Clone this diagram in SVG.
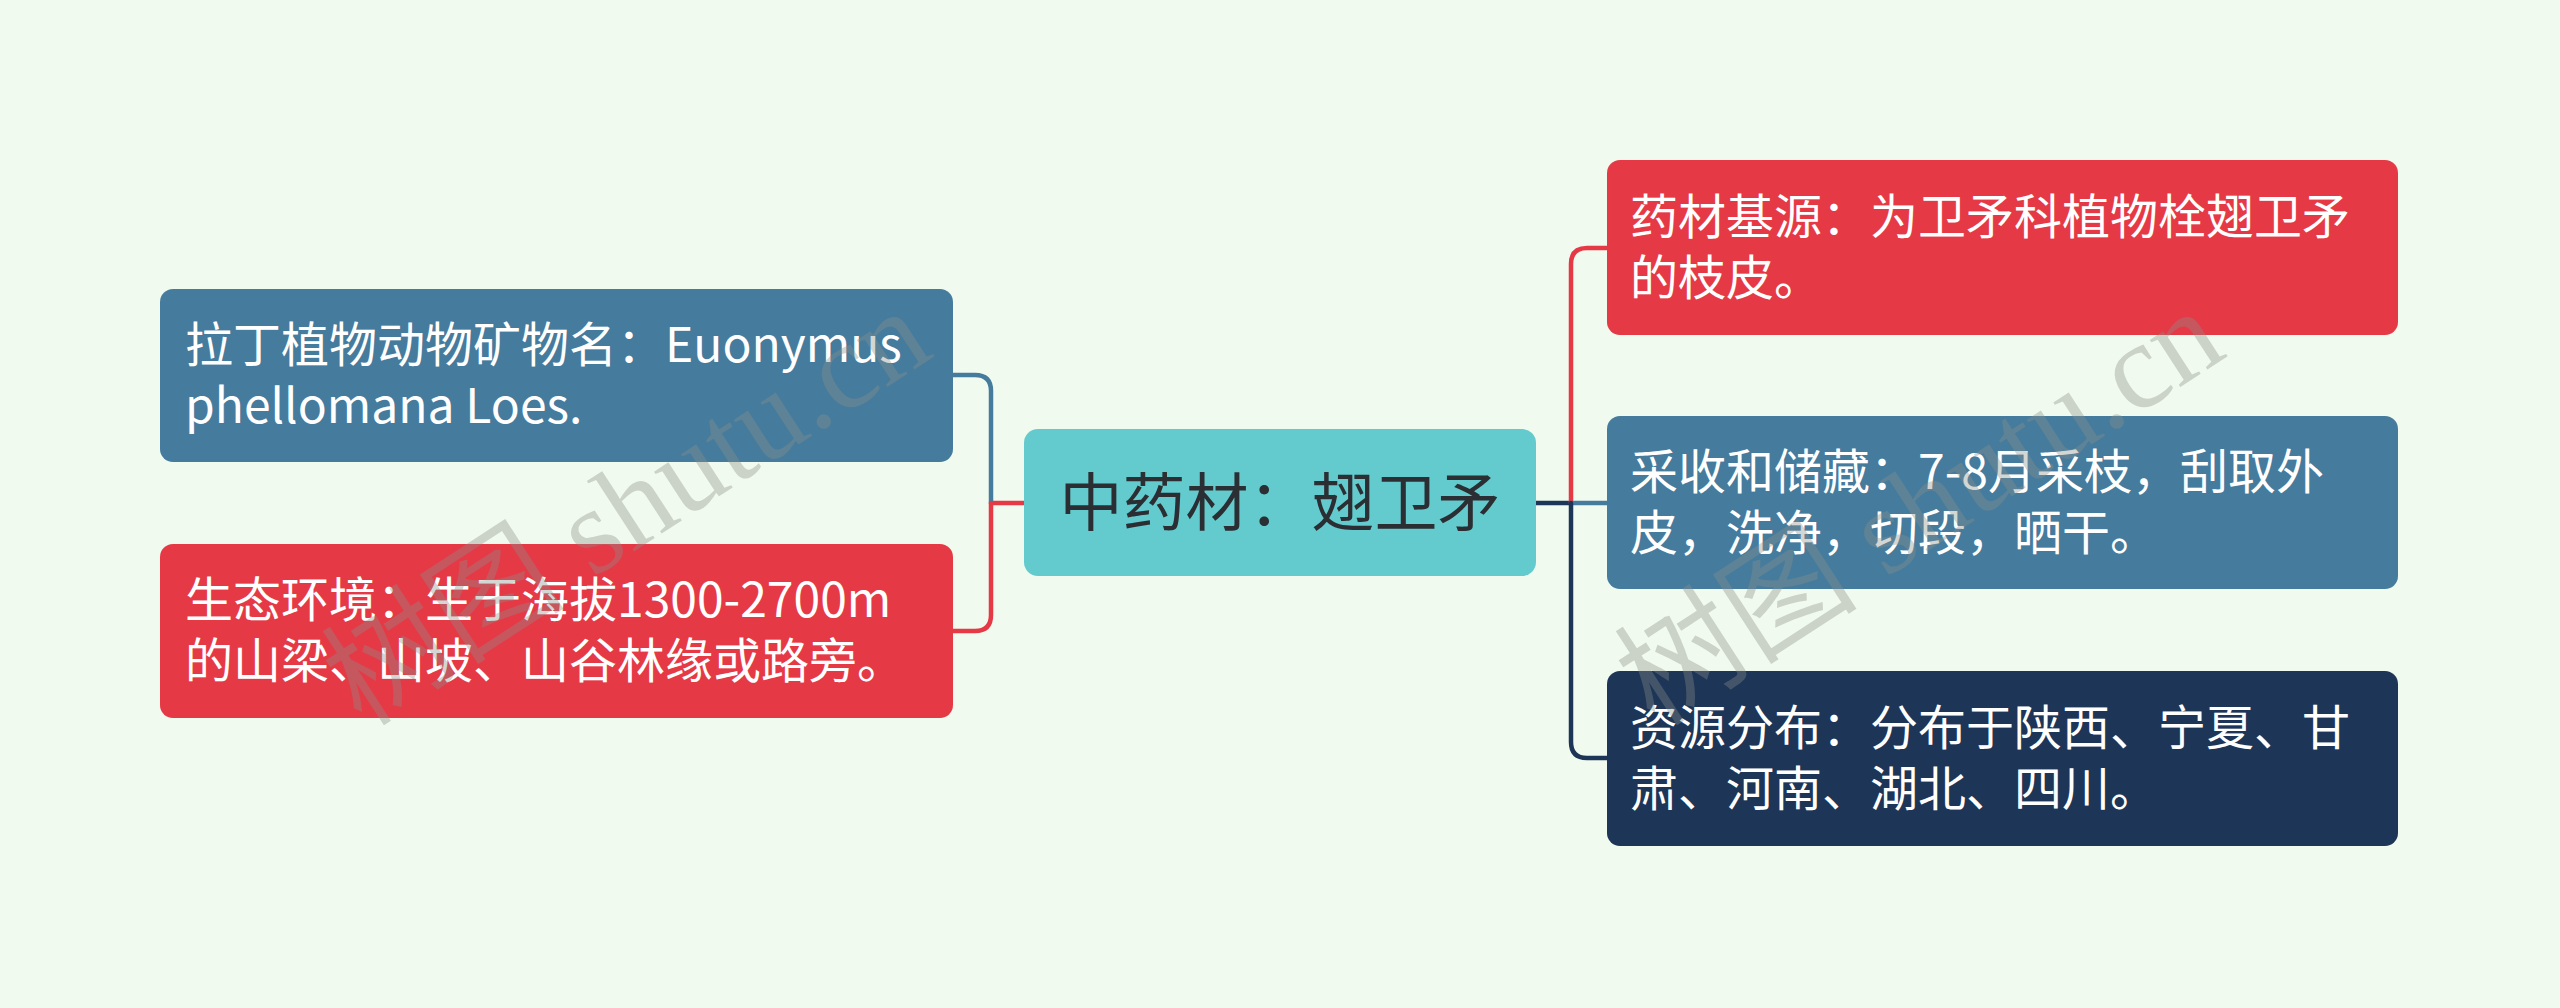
<svg xmlns="http://www.w3.org/2000/svg" width="2560" height="1008" viewBox="0 0 2560 1008">
<style>
.t{font-family:"Noto Sans CJK SC","Noto Sans",sans-serif;font-size:48px;fill:#ffffff}
.c{font-family:"Noto Sans CJK SC","Noto Sans",sans-serif;font-size:63px;fill:#2b2f33}
.l{fill:none;stroke-width:4.5;stroke-linecap:round}
.wm{font-family:"Liberation Serif","Noto Sans CJK SC",serif;font-size:122px;fill:#8a8f8a;opacity:0.36}
</style>
<rect x="0" y="0" width="2560" height="1008" fill="#F1FAEE"/>
<g id="connectors">
<path class="l" stroke="#E63946" d="M1024 503 H991"/>
<path class="l" stroke="#457B9D" d="M991 503 V391 Q991 375 975 375 H953"/>
<path class="l" stroke="#E63946" d="M991 503 V615 Q991 631 975 631 H953"/>
<path class="l" stroke="#1D3557" d="M1536 503 H1571"/>
<path class="l" stroke="#E63946" d="M1571 503 V264 Q1571 248 1587 248 H1607"/>
<path class="l" stroke="#457B9D" d="M1571 503 H1607"/>
<path class="l" stroke="#1D3557" d="M1571 503 V742 Q1571 758 1587 758 H1607"/>
</g>
<g id="center">
<rect x="1024" y="429" width="512" height="147" rx="14" fill="#63CACD"/>
<text class="c" x="1280" y="525" text-anchor="middle">中药材：翅卫矛</text>
</g>
<g id="left1">
<rect x="160" y="289" width="793" height="173" rx="13" fill="#457B9D"/>
<text class="t" x="185" y="362">拉丁植物动物矿物名：Euonymus</text>
<text class="t" x="185" y="423">phellomana Loes.</text>
</g>
<g id="left2">
<rect x="160" y="544" width="793" height="174" rx="13" fill="#E63946"/>
<text class="t" x="185" y="617">生态环境：生于海拔1300-2700m</text>
<text class="t" x="185" y="678">的山梁、山坡、山谷林缘或路旁。</text>
</g>
<g id="right1">
<rect x="1607" y="160" width="791" height="175" rx="13" fill="#E63946"/>
<text class="t" x="1630" y="234">药材基源：为卫矛科植物栓翅卫矛</text>
<text class="t" x="1630" y="295">的枝皮。</text>
</g>
<g id="right2">
<rect x="1607" y="416" width="791" height="173" rx="13" fill="#457B9D"/>
<text class="t" x="1630" y="489">采收和储藏：7-8月采枝，刮取外</text>
<text class="t" x="1630" y="550">皮，洗净，切段，晒干。</text>
</g>
<g id="right3">
<rect x="1607" y="671" width="791" height="175" rx="13" fill="#1D3557"/>
<text class="t" x="1630" y="745">资源分布：分布于陕西、宁夏、甘</text>
<text class="t" x="1630" y="806">肃、河南、湖北、四川。</text>
</g>
<g id="watermark">
<text class="wm" x="362" y="728" transform="rotate(-33 362 728)">树图 shutu.cn</text>
<text class="wm" x="1655" y="728" transform="rotate(-33 1655 728)">树图 shutu.cn</text>
</g>
</svg>
